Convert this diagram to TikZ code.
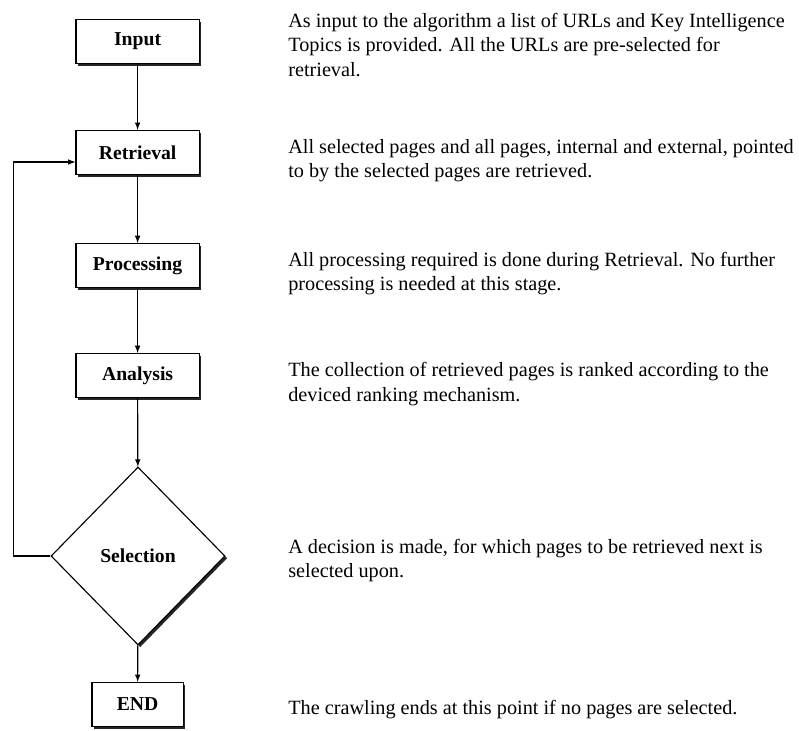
\documentclass[tikz,border=0pt]{standalone}
\usepackage{fontspec}
\setmainfont{Liberation Serif}
\usepackage{tikz}
\usetikzlibrary{arrows,calc,positioning,shapes,shadows}
\usetikzlibrary{shapes.geometric}
\tikzset{%
	stage/.style    = {draw, thick, rectangle, minimum width=3.08cm, minimum height=1.1cm, text centered, font=\fontsize{14}{17}\selectfont\bfseries, fill=white, drop shadow={shadow xshift=1.6pt, shadow yshift=-1.6pt, opacity=0.85, fill=black}},
	decision/.style = {draw, thick, diamond, minimum width=4.35cm, minimum height=4.45cm, inner sep=0pt, text centered, font=\fontsize{14}{17}\selectfont\bfseries, fill=white, drop shadow={shadow xshift=1.6pt, shadow yshift=-1.6pt, opacity=0.85, fill=black}},
	note/.style     = {anchor=north west, align=left, inner sep=0pt, font=\fontsize{14.4}{17.4}\selectfont},
	arrow/.style    = {thick,-latex},
}
\begin{document}
\begin{tikzpicture}
	\useasboundingbox (0,0) rectangle (19.975,-18.275);
	\node[stage] (input) at (3.44,-1.04) {Input};
	\node[stage] (retrieval) at (3.44,-3.81) {Retrieval};
	\node[stage] (processing) at (3.44,-6.64) {Processing};
	\node[stage] (analysis) at (3.44,-9.39) {Analysis};
	\node[decision] (selection) at (3.45,-13.9) {Selection};
	\node[stage, minimum width=2.28cm] (end) at (3.44,-17.61) {END};
	\coordinate (back) at (0.33,-4.05);
	
	\draw[arrow] (input) -- (retrieval);
	\draw[arrow] (retrieval) -- (processing);
	\draw[arrow] (processing) -- (analysis);
	\draw[arrow] (analysis) -- (selection);
	\draw[arrow] (selection) -- (end);
	\draw[arrow] (selection.west) -| (back) -- (back -| retrieval.west);
	
	\node[note] (inputnote) at (7.2,-0.32) {As input to the algorithm a list of URLs and Key Intelligence\\Topics is provided. All the URLs are pre-selected for\\retrieval.};
	\node[note] (retrievalnote) at (7.2,-3.47) {All selected pages and all pages, internal and external, pointed\\to by the selected pages are retrieved.};
	\node[note] (processingnote) at (7.2,-6.30) {All processing required is done during Retrieval. No further\\processing is needed at this stage.};
	\node[note] (analysisnote) at (7.2,-9.05) {The collection of retrieved pages is ranked according to the\\deviced ranking mechanism.};
	\node[note] (selectionnote) at (7.2,-13.47) {A decision is made, for which pages to be retrieved next is\\selected upon.};
	\node[note] (endnote) at (7.2,-17.5) {The crawling ends at this point if no pages are selected.};
\end{tikzpicture}
\end{document}
